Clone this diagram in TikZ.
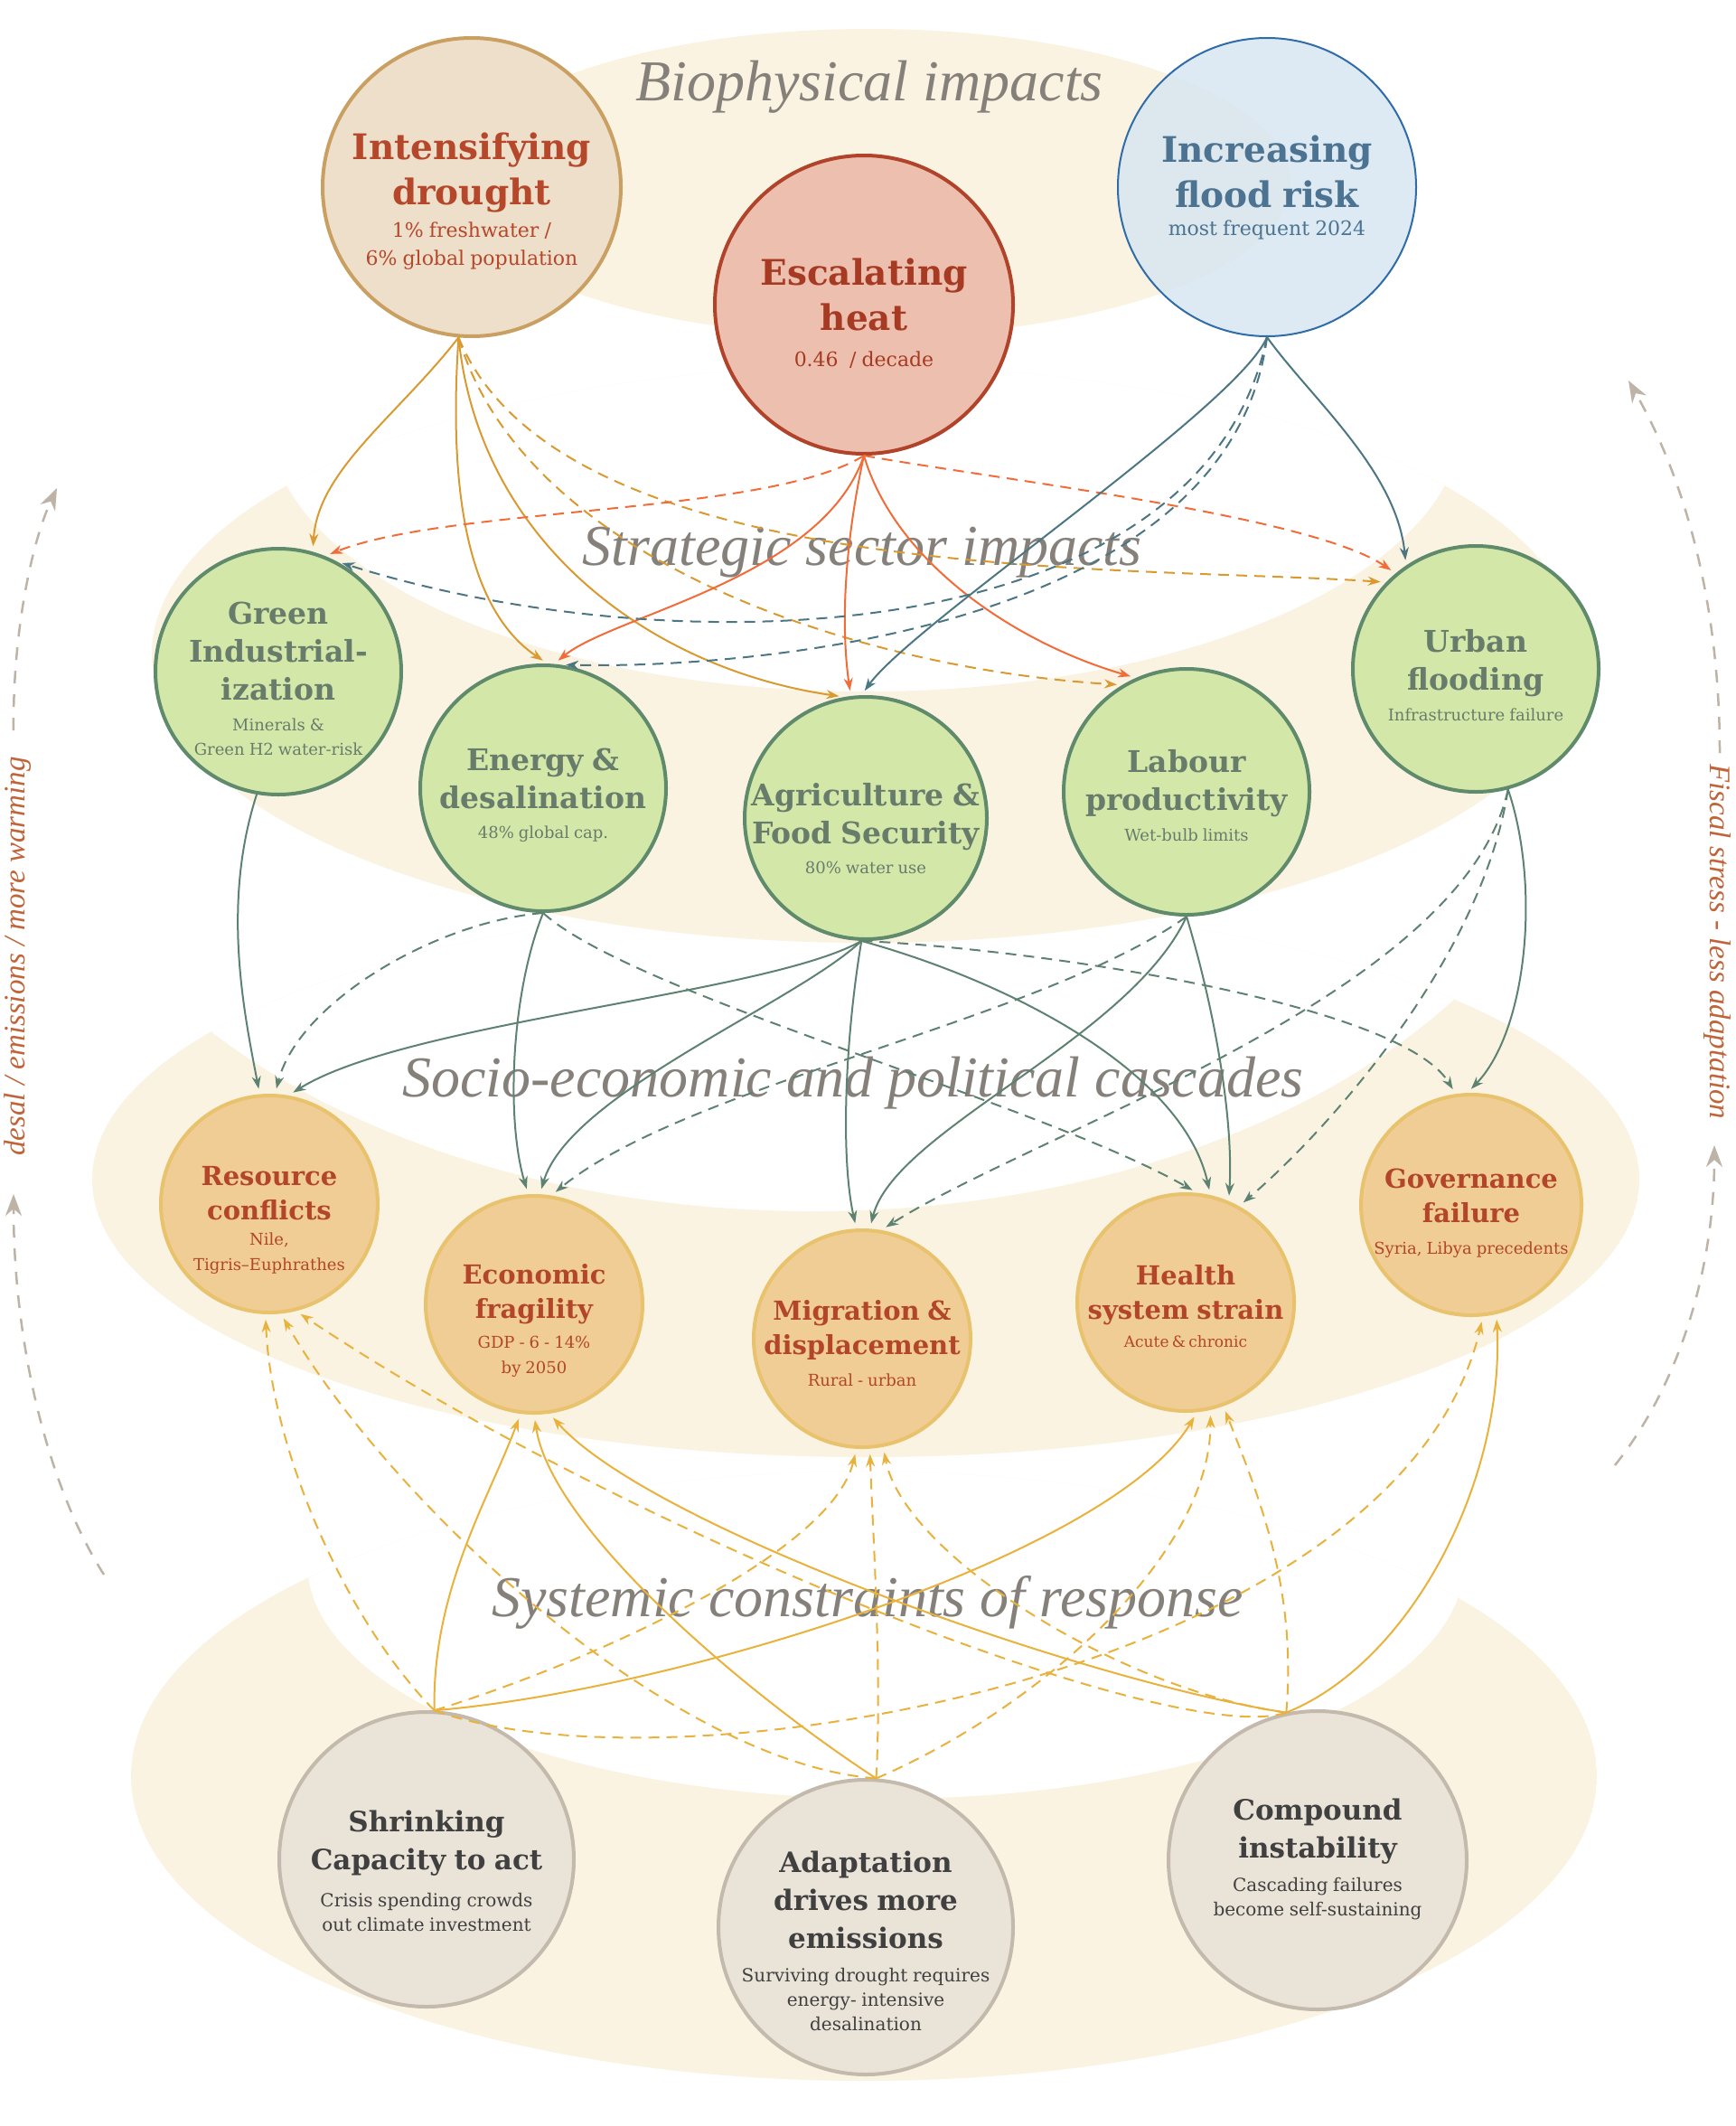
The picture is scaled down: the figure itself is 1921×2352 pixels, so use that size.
\documentclass[tikz,border=0pt]{standalone}
\usepackage{fontspec}
\setmainfont{DejaVu Serif}
\newfontfamily\bandfont{Liberation Serif}
\usetikzlibrary{arrows.meta}

\definecolor{cream}{HTML}{FAF3E2}
\definecolor{drfill}{HTML}{EEDFCA}
\definecolor{drline}{HTML}{C9A062}
\definecolor{drtext}{HTML}{B5472B}
\definecolor{htfill}{HTML}{EDBFAF}
\definecolor{htline}{HTML}{B0432A}
\definecolor{httext}{HTML}{A63A22}
\definecolor{flfill}{HTML}{D5E5F1}
\definecolor{flline}{HTML}{2F6CA8}
\definecolor{fltext}{HTML}{4C7391}
\definecolor{secfill}{HTML}{D3E7A9}
\definecolor{secline}{HTML}{5F8A6C}
\definecolor{sectext}{HTML}{687C6B}
\definecolor{casfill}{HTML}{F0CD94}
\definecolor{casline}{HTML}{E8C26C}
\definecolor{castext}{HTML}{B3462A}
\definecolor{botfill}{HTML}{EAE3D8}
\definecolor{botline}{HTML}{C3B9AD}
\definecolor{bottext}{HTML}{404040}
\definecolor{bandtext}{HTML}{85807A}
\definecolor{sidetext}{HTML}{C0643A}
\definecolor{sideline}{HTML}{BDB4A7}
\definecolor{drtedge}{HTML}{D99A32}
\definecolor{htedge}{HTML}{F26C3A}
\definecolor{fledge}{HTML}{4B7682}
\definecolor{secedge}{HTML}{5E8272}
\definecolor{botedge}{HTML}{E8B23C}

% text sizes
\newcommand\topttl{\fontsize{39}{50}\selectfont\bfseries\spaceskip=0.3em\relax}
\newcommand\topsub{\fontsize{22}{31}\selectfont\spaceskip=0.28em\relax}
\newcommand\secttl{\fontsize{33}{42}\selectfont\bfseries\spaceskip=0.3em\relax}
\newcommand\secsub{\fontsize{18}{27}\selectfont\spaceskip=0.28em\relax}
\newcommand\casttl{\fontsize{29}{38}\selectfont\bfseries\spaceskip=0.3em\relax}
\newcommand\cassub{\fontsize{18}{28}\selectfont\spaceskip=0.28em\relax}
\newcommand\botttl{\fontsize{31}{42}\selectfont\bfseries\spaceskip=0.3em\relax}
\newcommand\botsub{\fontsize{20}{27}\selectfont\spaceskip=0.28em\relax}

\tikzset{
  circ/.style={circle, inner sep=0pt, line width=4pt},
  topc/.style={circ, minimum size=330pt},
  secc/.style={circ, minimum size=272pt, fill=secfill, draw=secline},
  casc/.style={circ, minimum size=240pt, fill=casfill, draw=casline},
  botc/.style={circ, minimum size=326pt, fill=botfill, draw=botline},
  txt/.style={align=center, inner sep=0pt, text width=330pt},
  bandlbl/.style={font=\bandfont\itshape\fontsize{64}{70}\selectfont, text=bandtext, anchor=base, inner sep=0pt},
  sidelbl/.style={font=\bandfont\itshape\fontsize{33}{36}\selectfont, text=sidetext, inner sep=0pt},
  link/.style={line width=2pt, -{Stealth[length=14pt,width=10pt]}, shorten >=6pt},
  dsh/.style={dash pattern=on 12pt off 8pt},
  drt/.style={link, draw=drtedge},
  hte/.style={link, draw=htedge},
  fle/.style={link, draw=fledge},
  sece/.style={link, draw=secedge},
  bote/.style={link, draw=botedge},
  side/.style={line width=2.5pt, draw=sideline, dash pattern=on 14pt off 12pt,
    -{Stealth[length=24pt,width=18pt]}}
}

\begin{document}
\begin{tikzpicture}[x=1pt,y=-1pt]
  \fill[white] (0,0) rectangle (1921,2352);
  \useasboundingbox (0,0) rectangle (1921,2352);

  % bands
  \begin{scope}
    \clip (958,724) ellipse [x radius=790, y radius=319];
    \fill[cream, even odd rule] (958,724) ellipse [x radius=790, y radius=319]
      (958,465) ellipse [x radius=660, y radius=300];
  \end{scope}
  \begin{scope}
    \clip (958,1305) ellipse [x radius=856, y radius=307];
    \fill[cream, even odd rule] (958,1305) ellipse [x radius=856, y radius=307]
      (900,800) ellipse [x radius=860, y radius=540];
  \end{scope}
  \begin{scope}
    \clip (956,1965) ellipse [x radius=811, y radius=337];
    \fill[cream, even odd rule] (956,1965) ellipse [x radius=811, y radius=337]
      (980,1730) ellipse [x radius=640, y radius=260];
  \end{scope}
  \fill[cream] (962,202) ellipse [x radius=466, y radius=170];

  % band titles
  \node[bandlbl] (bio-t) at (962,112) {Biophysical impacts};
  \node[bandlbl] (sector-t) at (954,625) {Strategic sector impacts};
  \node[bandlbl] (cascade-t) at (944,1213) {Socio-economic and political cascades};
  \node[bandlbl] (system-t) at (960,1788) {Systemic constraints of response};

  % side loops
  \node[sidelbl, rotate=90] (left-t) at (20,1058) {desal / emissions / more warming};
  \node[sidelbl, rotate=-90] (right-t) at (1900,1042) {Fiscal stress - less adaptation};
  \coordinate (lu-a) at (15,808);
  \coordinate (lu-b) at (63,540);
  \coordinate (ll-a) at (115,1742);
  \coordinate (ll-b) at (15,1321);
  \coordinate (ru-a) at (1903,833);
  \coordinate (ru-b) at (1802,421);
  \coordinate (rl-a) at (1787,1621);
  \coordinate (rl-b) at (1897,1267);
  \draw[side] (lu-a) .. controls (14,700) and (35,600) .. (lu-b);
  \draw[side] (ll-a) .. controls (50,1640) and (15,1480) .. (ll-b);
  \draw[side] (ru-a) .. controls (1903,680) and (1870,540) .. (ru-b);
  \draw[side] (rl-a) .. controls (1860,1530) and (1897,1400) .. (rl-b);

  % biophysical impacts
  \node[topc, fill=drfill, draw=drline] (drought) at (522,207) {};
  \node[topc, fill=htfill, draw=htline] (heat) at (956,337) {};
  \node[topc, fill=flfill, fill opacity=0.8, draw=flline, line width=2pt] (flood) at (1402,207) {};
  \node[txt, text=drtext] (drought-t) at ([yshift=-16pt]drought.center)
    {{\topttl Intensifying\\drought\par}\vspace{5pt}{\topsub 1\% freshwater /\\6\% global population\par}};
  \node[txt, text=httext] (heat-t) at ([yshift=-10pt]heat.center)
    {{\topttl Escalating\\heat\par}\vspace{9pt}{\topsub 0.46\ \ / decade\par}};
  \node[txt, text=fltext] (flood-t) at ([yshift=0pt]flood.center)
    {{\topttl Increasing\\flood risk\par}{\topsub most frequent 2024\par}};

  % strategic sectors
  \node[secc] (green) at (308,743) {};
  \node[secc] (energy) at (601,872) {};
  \node[secc, minimum size=268pt] (agri) at (958,905) {};
  \node[secc] (labour) at (1313,876) {};
  \node[secc] (urban) at (1633,740) {};
  \node[txt, text=sectext] (green-t) at ([yshift=-8pt]green.center)
    {{\secttl Green\\Industrial-\\ization\par}\vspace{7pt}{\secsub Minerals \&\\Green H2 water-risk\par}};
  \node[txt, text=sectext] (energy-t) at ([yshift=-8pt]energy.center)
    {{\secttl Energy \&\\desalination\par}\vspace{6pt}{\secsub 48\% global cap.\par}};
  \node[txt, text=sectext] (agri-t) at ([yshift=-12pt]agri.center)
    {{\secttl Agriculture \&\\Food Security\par}\vspace{6pt}{\secsub 80\% water use\par}};
  \node[txt, text=sectext] (labour-t) at ([yshift=-4pt]labour.center)
    {{\secttl Labour\\productivity\par}\vspace{7pt}{\secsub Wet-bulb limits\par}};
  \node[txt, text=sectext] (urban-t) at ([yshift=-7pt]urban.center)
    {{\secttl Urban\\flooding\par}\vspace{7pt}{\secsub Infrastructure failure\par}};

  % cascades
  \node[casc] (resource) at (298,1332) {};
  \node[casc] (economic) at (591,1443) {};
  \node[casc] (migration) at (954,1481) {};
  \node[casc] (health) at (1312,1441) {};
  \node[casc, minimum size=244pt] (gov) at (1628,1333) {};
  \node[txt, text=castext] (resource-t) at ([yshift=-18pt]resource.center)
    {{\casttl Resource\\conflicts\par}{\cassub Nile,\\Tigris–Euphrathes\par}};
  \node[txt, text=castext] (economic-t) at ([yshift=-18pt]economic.center)
    {{\casttl Economic\\fragility\par}\vspace{5pt}{\cassub GDP - 6 - 14\%\\by 2050\par}};
  \node[txt, text=castext] (migration-t) at ([yshift=-5pt]migration.center)
    {{\casttl Migration \&\\displacement\par}\vspace{7pt}{\cassub Rural - urban\par}};
  \node[txt, text=castext] (health-t) at ([yshift=-4pt]health.center)
    {{\casttl Health\\system strain\par}\vspace{7pt}{\fontsize{17}{24}\selectfont Acute \& chronic\par}};
  \node[txt, text=castext] (gov-t) at ([yshift=-9pt]gov.center)
    {{\casttl Governance\\failure\par}\vspace{7pt}{\cassub Syria, Libya precedents\par}};

  % systemic constraints
  \node[botc] (shrinking) at (472,2057) {};
  \node[botc] (adapt) at (958,2132) {};
  \node[botc, minimum size=330pt] (compound) at (1458,2058) {};
  \node[txt, text=bottext] (shrinking-t) at ([yshift=-13pt]shrinking.center)
    {{\botttl Shrinking\\Capacity to act\par}\vspace{14pt}{\botsub Crisis spending crowds\\out climate investment\par}};
  \node[txt, text=bottext] (adapt-t) at ([yshift=-15pt]adapt.center)
    {{\botttl Adaptation\\drives more\\emissions\par}\vspace{10pt}{\botsub Surviving drought requires\\energy- intensive\\desalination\par}};
  \node[txt, text=bottext] (compound-t) at ([yshift=1pt]compound.center)
    {{\botttl Compound\\instability\par}\vspace{10pt}{\botsub Cascading failures\\become self-sustaining\par}};

  % drought links
  \draw[drt] (drought.265) .. controls (440,460) and (352,520) .. (green.74);
  \draw[drt] (drought.265) .. controls (492,600) and (540,690) .. (energy.88);
  \draw[drt] (drought.265) .. controls (530,600) and (720,740) .. (agri.100);
  \draw[drt, dsh] (drought.265) .. controls (580,620) and (950,740) .. (labour.121);
  \draw[drt, dsh] (drought.265) .. controls (620,650) and (1250,625) .. (urban.136);
  % heat links
  \draw[hte, dsh] (heat.south) .. controls (850,570) and (500,560) .. (green.68);
  \draw[hte] (heat.south) .. controls (910,640) and (680,680) .. (energy.85);
  \draw[hte] (heat.south) .. controls (935,600) and (930,690) .. (agri.97);
  \draw[hte] (heat.south) .. controls (990,620) and (1120,710) .. (labour.114);
  \draw[hte, dsh] (heat.south) .. controls (1100,530) and (1450,570) .. (urban.130);
  % flood links
  \draw[fle, dsh] (flood.south) .. controls (1330,720) and (750,740) .. (green.62);
  \draw[fle, dsh] (flood.south) .. controls (1360,700) and (820,740) .. (energy.82);
  \draw[fle] (flood.south) .. controls (1370,450) and (1010,690) .. (agri.92);
  \draw[fle] (flood.south) .. controls (1450,440) and (1545,520) .. (urban.124);

  % sector links
  \draw[sece] (green.260) .. controls (245,1000) and (270,1120) .. (resource.95);
  \draw[sece, dsh] (energy.south) .. controls (480,1020) and (330,1110) .. (resource.87);
  \draw[sece] (energy.south) .. controls (565,1100) and (560,1240) .. (economic.93);
  \draw[sece, dsh] (energy.south) .. controls (700,1100) and (1150,1220) .. (health.84);
  \draw[sece] (agri.268) .. controls (850,1100) and (450,1130) .. (resource.80);
  \draw[sece] (agri.268) .. controls (880,1110) and (630,1210) .. (economic.87);
  \draw[sece] (agri.268) .. controls (935,1150) and (930,1280) .. (migration.93);
  \draw[sece] (agri.268) .. controls (1130,1090) and (1310,1190) .. (health.77);
  \draw[sece, dsh] (agri.268) .. controls (1150,1050) and (1550,1110) .. (gov.98);
  \draw[sece, dsh] (labour.south) .. controls (1150,1130) and (760,1200) .. (economic.81);
  \draw[sece] (labour.south) .. controls (1250,1150) and (990,1250) .. (migration.86);
  \draw[sece] (labour.south) .. controls (1345,1120) and (1365,1240) .. (health.67);
  \draw[sece, dsh] (urban.285) .. controls (1620,1100) and (1150,1250) .. (migration.80);
  \draw[sece, dsh] (urban.285) .. controls (1640,1060) and (1470,1250) .. (health.61);
  \draw[sece] (urban.285) .. controls (1705,980) and (1690,1140) .. (gov.92);

  % constraint links
  \draw[bote, dsh] (shrinking.87) .. controls (380,1790) and (300,1600) .. (resource.268);
  \draw[bote] (shrinking.87) .. controls (478,1760) and (540,1660) .. (economic.263);
  \draw[bote, dsh] (shrinking.87) .. controls (650,1840) and (920,1720) .. (migration.267);
  \draw[bote] (shrinking.87) .. controls (750,1870) and (1230,1720) .. (health.276);
  \draw[bote, dsh] (shrinking.87) .. controls (750,1990) and (1550,1850) .. (gov.276);
  \draw[bote, dsh] (adapt.86) .. controls (740,1950) and (430,1660) .. (resource.276);
  \draw[bote] (adapt.86) .. controls (820,1870) and (610,1690) .. (economic.270);
  \draw[bote, dsh] (adapt.86) .. controls (976,1850) and (966,1700) .. (migration.274);
  \draw[bote, dsh] (adapt.86) .. controls (1150,1890) and (1340,1720) .. (health.283);
  \draw[bote, dsh] (compound.102) .. controls (1300,1935) and (700,1700) .. (resource.284);
  \draw[bote] (compound.102) .. controls (1200,1860) and (720,1690) .. (economic.278);
  \draw[bote, dsh] (compound.102) .. controls (1240,1870) and (1000,1720) .. (migration.281);
  \draw[bote, dsh] (compound.102) .. controls (1435,1760) and (1395,1660) .. (health.290);
  \draw[bote] (compound.102) .. controls (1560,1840) and (1665,1640) .. (gov.283);
\end{tikzpicture}
\end{document}
